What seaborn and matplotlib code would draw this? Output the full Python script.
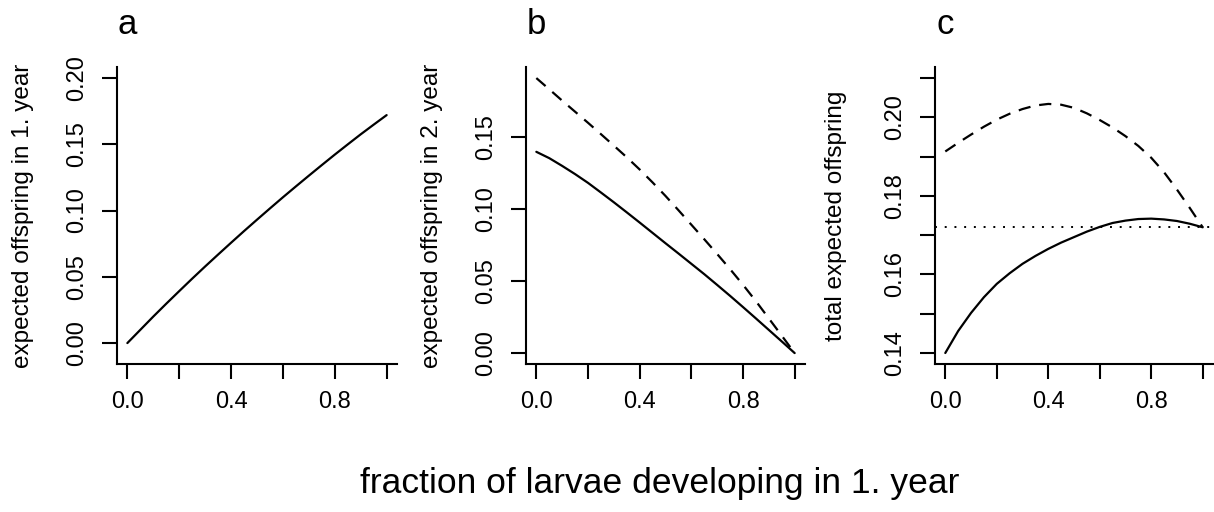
import matplotlib
matplotlib.use("Agg")
import matplotlib.pyplot as plt
import matplotlib.transforms as mtransforms
import seaborn as sns

# ---- data ----
fraction = [0.00, 0.05, 0.10, 0.15, 0.20, 0.25, 0.30, 0.35, 0.40, 0.45, 0.50,
            0.55, 0.60, 0.65, 0.70, 0.75, 0.80, 0.85, 0.90, 0.95, 1.00]
offspring_year1 = [0.0000, 0.0100, 0.0200, 0.0297, 0.0392, 0.0486, 0.0578, 0.0668, 0.0757, 0.0845, 0.0931,
                   0.1016, 0.1100, 0.1182, 0.1263, 0.1343, 0.1422, 0.1499, 0.1575, 0.1648, 0.1720]
offspring_year2_solid = [0.1400, 0.1356, 0.1302, 0.1245, 0.1184, 0.1117, 0.1049, 0.0979, 0.0908, 0.0836, 0.0764,
                         0.0693, 0.0621, 0.0549, 0.0474, 0.0398, 0.0320, 0.0241, 0.0161, 0.0081, 0.0000]
offspring_year2_dashed = [0.1913, 0.1835, 0.1756, 0.1679, 0.1602, 0.1523, 0.1443, 0.1362, 0.1277, 0.1187, 0.1093,
                          0.0994, 0.0893, 0.0792, 0.0689, 0.0584, 0.0475, 0.0361, 0.0241, 0.0121, 0.0000]

x_ticks = [0.0, 0.2, 0.4, 0.6, 0.8, 1.0]
x_ticklabels = ["0.0", "", "0.4", "", "0.8", ""]
a_yticks = [0.00, 0.05, 0.10, 0.15, 0.20]
a_yticklabels = ["0.00", "0.05", "0.10", "0.15", "0.20"]
b_yticks = [0.00, 0.05, 0.10, 0.15]
b_yticklabels = ["0.00", "0.05", "0.10", "0.15"]
c_yticks = [0.14, 0.15, 0.16, 0.17, 0.18, 0.19, 0.20, 0.21]
c_yticklabels = ["0.14", "", "0.16", "", "0.18", "", "0.20", ""]

panel_letters = ["a", "b", "c"]
y_labels = ["expected offspring in 1. year",
            "expected offspring in 2. year",
            "total expected offspring"]
x_label = "fraction of larvae developing in 1. year"

total_solid = [a + b for a, b in zip(offspring_year1, offspring_year2_solid)]
total_dashed = [a + b for a, b in zip(offspring_year1, offspring_year2_dashed)]

# ---- style ----
sns.set_style("ticks")
plt.rcParams["font.family"] = ["Liberation Sans", "DejaVu Sans"]
plt.rcParams["axes.linewidth"] = 1.5
plt.rcParams["text.color"] = "black"
plt.rcParams["axes.labelcolor"] = "black"

W, H = 1214, 512
fig = plt.figure(figsize=(W / 100, H / 100), dpi=100)

def px_axes(left, right, top, bottom):
    return fig.add_axes([left / W, 1 - bottom / H, (right - left) / W, (bottom - top) / H])

ax_a = px_axes(117, 397, 67, 364)
ax_b = px_axes(526, 805, 67, 364)
ax_c = px_axes(935, 1213, 67, 364)
axes = [ax_a, ax_b, ax_c]

LW = 1.6
DASH = (0, (5.5, 4))
DOT = (0, (1, 4))

sns.lineplot(x=fraction, y=offspring_year1, ax=ax_a, color="black", lw=LW)

sns.lineplot(x=fraction, y=offspring_year2_solid, ax=ax_b, color="black", lw=LW)
sns.lineplot(x=fraction, y=offspring_year2_dashed, ax=ax_b, color="black", lw=LW, linestyle=DASH)

sns.lineplot(x=fraction, y=total_solid, ax=ax_c, color="black", lw=LW)
sns.lineplot(x=fraction, y=total_dashed, ax=ax_c, color="black", lw=LW, linestyle=DASH)
ax_c.axhline(offspring_year1[-1], color="black", lw=1.4, linestyle=DOT)

ylims = [(-0.0158, 0.2083), (-0.0076, 0.199), (0.1372, 0.2128)]
yticks = [a_yticks, b_yticks, c_yticks]
ytl = [a_yticklabels, b_yticklabels, c_yticklabels]
ylab_x = [-0.335, -0.338, -0.355]

for ax, lim, yt, yl, letter, ylab, lx in zip(axes, ylims, yticks, ytl, panel_letters, y_labels, ylab_x):
    ax.set_xlim(-0.04, 1.04)
    ax.set_ylim(*lim)
    ax.set_xticks(x_ticks)
    ax.set_xticklabels(x_ticklabels)
    ax.set_yticks(yt)
    ax.set_yticklabels(yl, rotation=90, va="center")
    ax.tick_params(axis="both", direction="out", length=10.6, width=1.5,
                   labelsize=17, colors="black")
    ax.tick_params(axis="x", pad=9)
    ax.tick_params(axis="y", pad=10)
    sns.despine(ax=ax)
    for s in ("left", "bottom"):
        ax.spines[s].set_color("black")
        ax.spines[s].set_linewidth(1.5)
    ax.set_xlabel("")
    ax.set_ylabel(ylab, fontsize=17.5, va="center", color="black")
    ax.yaxis.set_label_coords(lx, 0.5)
    trans = mtransforms.blended_transform_factory(ax.transData, ax.transAxes)
    ax.text(0.0, 1.112, letter, transform=trans, ha="center", va="baseline",
            fontsize=25, color="black")

fig.text(660 / W, 1 - 484 / H, x_label, ha="center", va="center", fontsize=25.5, color="black")

fig.savefig("out.png", dpi=100, facecolor="white")
